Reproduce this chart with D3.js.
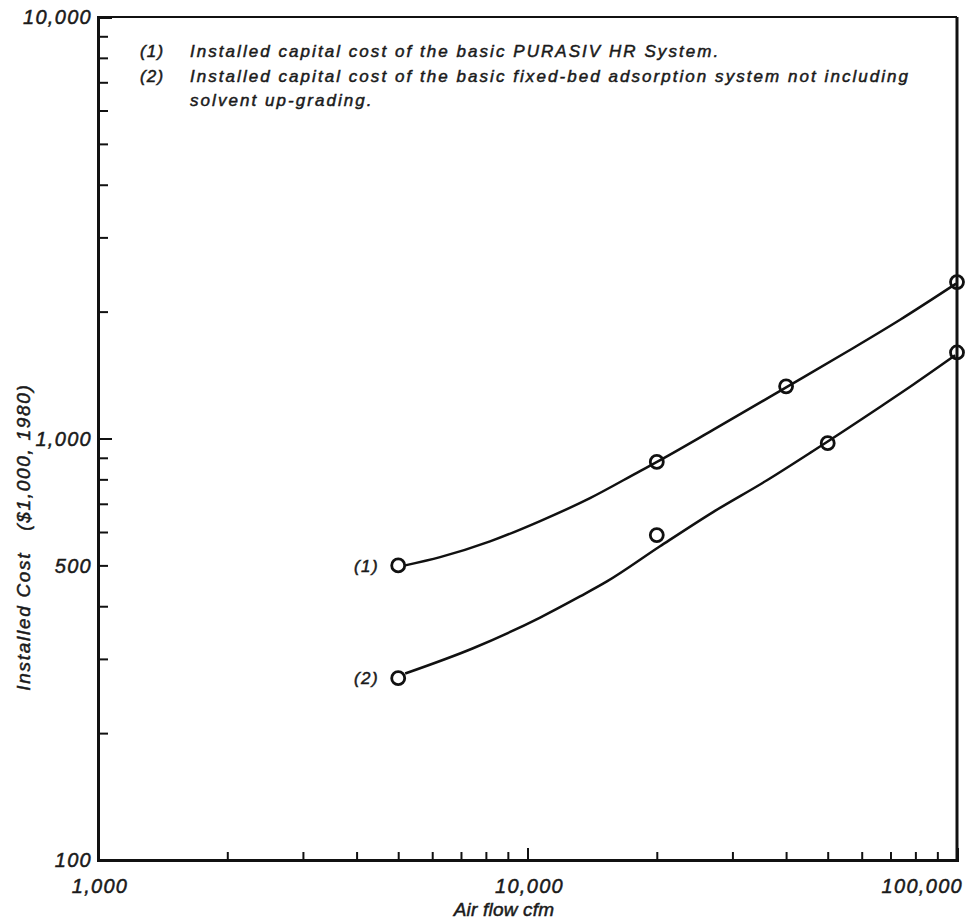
<!DOCTYPE html>
<html>
<head>
<meta charset="utf-8">
<script src="https://cdn.jsdelivr.net/npm/d3@7"></script>
<style>
  body { margin: 0; background: #fff; }
  svg text { font-family: "Liberation Sans", Arial, sans-serif; font-style: italic; fill: #1a1a1a; stroke: #1a1a1a; stroke-width: 0.5px; }
</style>
</head>
<body>
<svg id="chart" width="966" height="919"></svg>
<script>
// measured points
const flowHR = [5000, 20000, 40000, 100000];
const costHR = [500, 880, 1330, 2350];
const flowFixedBed = [5000, 20000, 50000, 100000];
const costFixedBed = [270, 590, 975, 1600];

// hand-drawn fitted curves
const curveHRFlow = [5190, 6260, 8180, 10700, 13980, 18280, 20020, 27040, 40200, 55430, 73700, 99500];
const curveHRCost = [500, 523, 570, 637, 722, 837, 880, 1048, 1326, 1606, 1913, 2330];
const curveFBFlow = [5190, 7470, 10700, 13250, 15310, 20350, 27040, 36110, 46220, 66190, 79000, 99000];
const curveFBCost = [277, 318, 376, 422, 458, 555, 669, 796, 934, 1188, 1341, 1575];

const xMajor = [1000, 10000, 100000];
const xMinor = [2000, 3000, 4000, 5000, 6000, 7000, 8000, 9000,
                20000, 30000, 40000, 50000, 60000, 70000, 80000, 90000];
const yTicks = [200, 300, 400, 500, 600, 700, 800, 900,
                2000, 3000, 4000, 5000, 6000, 7000, 8000, 9000];
const yLabels = [100, 500, 1000, 10000];

const legend = [
  ["(1)", "Installed capital cost of the basic PURASIV HR System."],
  ["(2)", "Installed capital cost of the basic fixed-bed adsorption system not including"],
  ["", "solvent up-grading."]
];

const svg = d3.select("#chart");
const margin = { top: 17, right: 9, bottom: 59, left: 98 };
const width = 966 - margin.left - margin.right;
const height = 919 - margin.top - margin.bottom;

const x = d3.scaleLog().domain([1000, 100000]).range([margin.left, margin.left + width]);
const y = d3.scaleLog().domain([100, 10000]).range([margin.top + height, margin.top]);
const fmt = d3.format(",");

// frame top + right
svg.append("line")
  .attr("x1", x(1000)).attr("x2", x(100000))
  .attr("y1", y(10000)).attr("y2", y(10000))
  .attr("stroke", "#111").attr("stroke-width", 2);
svg.append("line")
  .attr("x1", x(100000)).attr("x2", x(100000))
  .attr("y1", y(10000)).attr("y2", y(100))
  .attr("stroke", "#111").attr("stroke-width", 3);

// x axis
const xAxis = svg.append("g").attr("transform", `translate(0,${y(100)})`);
xAxis.call(d3.axisBottom(x).tickValues(xMinor).tickSize(-8).tickFormat(""));
xAxis.append("g").call(d3.axisBottom(x).tickValues([10000]).tickSize(-12).tickFormat(""));
xAxis.selectAll("path").attr("stroke-width", 3).attr("stroke", "#111");
xAxis.selectAll("line").attr("stroke-width", 2).attr("stroke", "#111");
xAxis.selectAll(".label")
  .data(xMajor)
  .join("text")
  .attr("x", d => x(d))
  .attr("y", 33)
  .attr("text-anchor", d => d === 100000 ? "end" : "middle")
  .attr("dx", d => d === 100000 ? 6 : 2)
  .attr("font-size", 20)
  .attr("letter-spacing", 1.3)
  .text(fmt);

// y axis
const yAxis = svg.append("g").attr("transform", `translate(${x(1000)},0)`);
yAxis.call(d3.axisLeft(y).tickValues(yTicks).tickSize(-10).tickFormat(""));
yAxis.append("g").call(d3.axisLeft(y).tickValues([1000]).tickSize(-14).tickFormat(""));
yAxis.selectAll("path").attr("stroke-width", 3).attr("stroke", "#111");
yAxis.selectAll("line").attr("stroke-width", 2).attr("stroke", "#111");
yAxis.selectAll(".label")
  .data(yLabels)
  .join("text")
  .attr("x", -6)
  .attr("y", d => y(d))
  .attr("dy", "0.36em")
  .attr("text-anchor", "end")
  .attr("font-size", 20)
  .attr("letter-spacing", 1.3)
  .text(fmt);

// axis titles
svg.append("text")
  .attr("x", 504).attr("y", 916)
  .attr("text-anchor", "middle")
  .attr("font-size", 19)
  .attr("letter-spacing", 0.2)
  .text("Air flow cfm");
svg.append("text")
  .attr("transform", "translate(30,537) rotate(-90)")
  .attr("text-anchor", "middle")
  .attr("font-size", 19)
  .attr("letter-spacing", 1.7)
  .attr("xml:space", "preserve")
  .text("Installed Cost   ($1,000, 1980)");

// curves
const line = d3.line()
  .x(d => x(d[0]))
  .y(d => y(d[1]))
  .curve(d3.curveMonotoneX);

const curves = [
  d3.zip(curveHRFlow, curveHRCost),
  d3.zip(curveFBFlow, curveFBCost)
];
svg.selectAll(".fit")
  .data(curves)
  .join("path")
  .attr("class", "fit")
  .attr("d", line)
  .attr("fill", "none")
  .attr("stroke", "#111")
  .attr("stroke-width", 2.5);

const points = [
  ...d3.zip(flowHR, costHR),
  ...d3.zip(flowFixedBed, costFixedBed)
];
svg.selectAll(".pt")
  .data(points)
  .join("circle")
  .attr("class", "pt")
  .attr("cx", d => x(d[0]))
  .attr("cy", d => y(d[1]))
  .attr("r", 6.5)
  .attr("fill", "none")
  .attr("stroke", "#111")
  .attr("stroke-width", 2.8);

// series labels
[["(1)", costHR[0]], ["(2)", costFixedBed[0]]].forEach(([t, v]) => {
  svg.append("text")
    .attr("x", x(5000) - 19).attr("y", y(v))
    .attr("dy", "0.36em").attr("text-anchor", "end")
    .attr("font-size", 17).attr("letter-spacing", 1.5)
    .text(t);
});

// legend notes
const notes = svg.append("g");
legend.forEach((row, i) => {
  const ty = 57 + i * 24.5;
  notes.append("text").attr("x", 140).attr("y", ty).attr("font-size", 17).attr("letter-spacing", 1.2).text(row[0]);
  notes.append("text").attr("x", 190).attr("y", ty).attr("font-size", 17).attr("letter-spacing", 2.05).text(row[1]);
});
</script>
</body>
</html>
